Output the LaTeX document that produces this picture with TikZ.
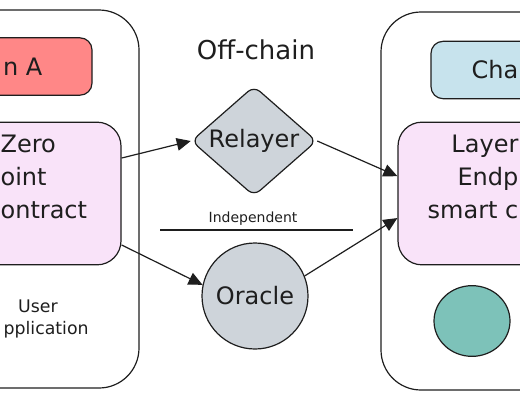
\documentclass[tikz,border=0pt]{standalone}
\usepackage{fontspec}
\setmainfont{DejaVu Sans}
\usetikzlibrary{shapes, arrows, arrows.meta}

\definecolor{inkgray}{RGB}{30,30,30}
\definecolor{chainred}{RGB}{255,135,135}
\definecolor{chainblue}{RGB}{199,227,237}
\definecolor{lzpink}{RGB}{249,227,249}
\definecolor{offgray}{RGB}{206,212,218}
\definecolor{appteal}{RGB}{125,194,185}

\begin{document}
\begin{tikzpicture}[x=0.75pt, y=-0.75pt, line width=0.9pt, color=inkgray,
  every node/.style={font=\fontsize{18}{25}\selectfont, align=center},
  chain/.style={draw, rounded corners=30pt, minimum width=195pt, minimum height=283.5pt},
  head/.style={draw, rounded corners=9pt, minimum width=141.75pt, minimum height=43pt},
  endpoint/.style={draw, fill=lzpink, rounded corners=18pt, minimum width=172.5pt, minimum height=107pt},
  small/.style={font=\fontsize{13}{18}\selectfont, inner sep=0pt},
  link/.style={-{Triangle[length=10.5pt,width=9.5pt]}}]
\useasboundingbox (0,0) rectangle (520,400);
\clip (0,0) rectangle (520,400);

% the two chains
\node (chainA) [chain] at (9,199) {};
\node (chainB) [chain] at (511,201) {};
\node (headA) [head, fill=chainred] at (-2.5,66.5) {};
\node (headB) [head, fill=chainblue] at (525.5,70) {};
\node (headAtext) [anchor=east, inner sep=0pt] at (43,66.5) {n A};
\node (headBtext) [anchor=east, inner sep=0pt] at (519,70) {Cha};
\node (lzA) [endpoint] at (6,193.5) {};
\node (lzB) [endpoint] at (513,193.5) {};
\node (lzAtext) [anchor=west, align=left, inner sep=0pt] at (0,177) {Zero\\oint\\ontract};
\node (lzBtext) [anchor=east, align=right, inner sep=0pt] at (519,177) {Layer\\Endp\\smart c};
\node (user) [small] at (38,306) {User};
\node (application) [small, anchor=west] at (3,330) {pplication};
\node (appB) [draw, ellipse, fill=appteal, minimum width=57pt, minimum height=53pt] at (472,321) {};

% off-chain part
\node (offchain) [font=\fontsize{19.5}{25}\selectfont] at (256,50) {Off-chain};
\node (relayer) [draw, diamond, fill=offgray, rounded corners=6pt, aspect=1.14,
  inner sep=0pt, minimum width=94pt, minimum height=82.5pt] at (254,141) {Relayer};
\node (indep) [font=\fontsize{10.5}{12}\selectfont] at (253,219) {Independent};
\coordinate (sepL) at (160,230);
\coordinate (sepR) at (353,230);
\draw (sepL) -- (sepR);
\node (oracle) [draw, circle, fill=offgray, minimum size=79.5pt] at (255,296) {Oracle};

% messages
\draw[link] ([yshift=26.6pt]lzA.east) -- (relayer.west);
\draw[link] (relayer.east) -- ([yshift=13pt]lzB.west);
\draw[link] ([yshift=-38.6pt]lzA.east) -- (oracle.168);
\draw[link] (oracle.22) -- ([yshift=-18.4pt]lzB.west);
\end{tikzpicture}
\end{document}
